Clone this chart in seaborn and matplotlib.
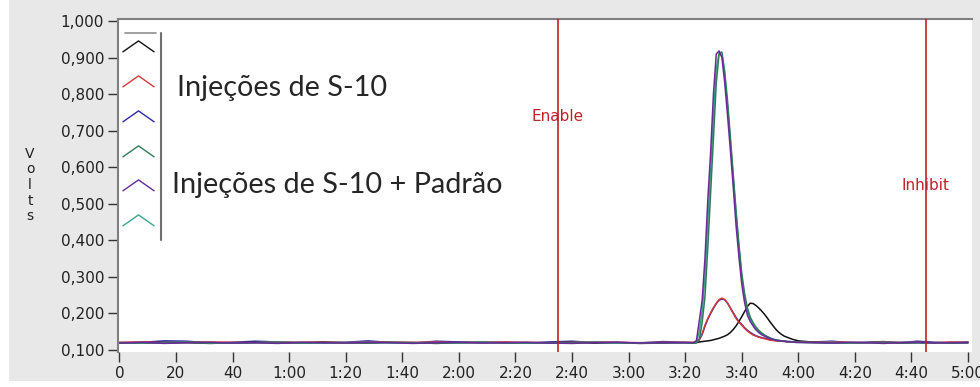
import matplotlib
matplotlib.use("Agg")
import matplotlib.pyplot as plt
from matplotlib.lines import Line2D
from matplotlib.patches import Rectangle
from matplotlib.ticker import FuncFormatter
import pandas as pd
import seaborn as sns

# Sample times in seconds: coarse baseline, 1 s resolution around the peaks, coarse tail
seconds = [
    0, 8, 16, 24, 32, 40, 48, 56, 64, 72, 80, 88, 96,
    104, 112, 120, 128, 136, 144, 152, 160, 168, 176, 184, 192, 200,
    203, 204, 205, 206, 207, 208, 209, 210, 211, 212,
    213, 214, 215, 216, 217, 218, 219, 220, 221, 222,
    223, 224, 225, 226, 227, 228, 229, 230, 231, 232,
    233, 234, 235, 236, 237, 238, 239, 240,
    246, 252, 258, 264, 270, 276, 282, 288, 294, 300,
]

# Detector signal (V) for the six injections
black = [
    0.120, 0.119, 0.121, 0.120, 0.118, 0.120, 0.121, 0.119, 0.120, 0.122, 0.120, 0.119, 0.121,
    0.120, 0.118, 0.120, 0.121, 0.120, 0.119, 0.120, 0.121, 0.119, 0.120, 0.118, 0.119, 0.120,
    0.119, 0.120, 0.122, 0.123, 0.124, 0.125, 0.126, 0.128, 0.130, 0.132,
    0.135, 0.138, 0.142, 0.148, 0.156, 0.166, 0.178, 0.191, 0.205, 0.219,
    0.228, 0.227, 0.222, 0.215, 0.207, 0.198, 0.188, 0.177, 0.167, 0.157,
    0.149, 0.143, 0.138, 0.135, 0.132, 0.129, 0.127, 0.125,
    0.121, 0.120, 0.119, 0.120, 0.121, 0.119, 0.120, 0.120, 0.119, 0.120,
]
red = [
    0.121, 0.122, 0.120, 0.121, 0.122, 0.121, 0.120, 0.122, 0.121, 0.121, 0.120, 0.122, 0.121,
    0.121, 0.122, 0.120, 0.121, 0.122, 0.121, 0.120, 0.121, 0.122, 0.121, 0.120, 0.121, 0.121,
    0.121, 0.123, 0.130, 0.145, 0.168, 0.186, 0.202, 0.216, 0.228, 0.238,
    0.242, 0.238, 0.228, 0.214, 0.200, 0.186, 0.176, 0.168, 0.159, 0.152,
    0.146, 0.141, 0.138, 0.135, 0.133, 0.131, 0.129, 0.127, 0.126, 0.125,
    0.124, 0.124, 0.123, 0.123, 0.122, 0.122, 0.121, 0.121,
    0.121, 0.122, 0.121, 0.120, 0.122, 0.121, 0.121, 0.120, 0.122, 0.121,
]
blue = [
    0.120, 0.121, 0.125, 0.124, 0.119, 0.121, 0.124, 0.122, 0.120, 0.119, 0.121, 0.125, 0.120,
    0.119, 0.124, 0.122, 0.120, 0.121, 0.119, 0.122, 0.124, 0.120, 0.121, 0.119, 0.123, 0.121,
    0.120, 0.122, 0.128, 0.142, 0.165, 0.184, 0.200, 0.214, 0.227, 0.236,
    0.240, 0.237, 0.228, 0.215, 0.202, 0.189, 0.178, 0.170, 0.161, 0.154,
    0.148, 0.143, 0.139, 0.136, 0.134, 0.132, 0.130, 0.128, 0.127, 0.126,
    0.125, 0.124, 0.124, 0.123, 0.123, 0.122, 0.122, 0.121,
    0.122, 0.124, 0.120, 0.121, 0.123, 0.120, 0.124, 0.121, 0.120, 0.122,
]
green = [
    0.119, 0.120, 0.119, 0.121, 0.120, 0.119, 0.120, 0.121, 0.119, 0.120, 0.120, 0.119, 0.121,
    0.120, 0.119, 0.120, 0.121, 0.119, 0.120, 0.119, 0.120, 0.121, 0.120, 0.119, 0.120, 0.120,
    0.119, 0.120, 0.128, 0.175, 0.245, 0.380, 0.530, 0.680, 0.830, 0.912,
    0.915, 0.860, 0.780, 0.680, 0.580, 0.480, 0.390, 0.310, 0.255, 0.215,
    0.190, 0.175, 0.163, 0.154, 0.147, 0.141, 0.137, 0.133, 0.130, 0.128,
    0.126, 0.125, 0.124, 0.123, 0.122, 0.122, 0.121, 0.121,
    0.120, 0.119, 0.120, 0.120, 0.121, 0.119, 0.120, 0.120, 0.119, 0.120,
]
purple = [
    0.119, 0.121, 0.118, 0.120, 0.121, 0.119, 0.120, 0.118, 0.121, 0.120, 0.119, 0.121, 0.120,
    0.118, 0.120, 0.121, 0.119, 0.120, 0.121, 0.119, 0.118, 0.120, 0.121, 0.119, 0.120, 0.120,
    0.120, 0.126, 0.180, 0.235, 0.350, 0.510, 0.640, 0.800, 0.910, 0.918,
    0.900, 0.830, 0.740, 0.645, 0.545, 0.440, 0.355, 0.280, 0.230, 0.195,
    0.178, 0.166, 0.155, 0.148, 0.142, 0.138, 0.134, 0.131, 0.129, 0.127,
    0.126, 0.125, 0.124, 0.123, 0.123, 0.122, 0.121, 0.121,
    0.120, 0.119, 0.121, 0.120, 0.118, 0.120, 0.121, 0.119, 0.120, 0.120,
]
teal = [
    0.120, 0.119, 0.120, 0.121, 0.119, 0.120, 0.120, 0.121, 0.120, 0.119, 0.120, 0.121, 0.119,
    0.120, 0.120, 0.119, 0.121, 0.120, 0.119, 0.120, 0.120, 0.121, 0.119, 0.120, 0.120, 0.119,
    0.120, 0.122, 0.150, 0.205, 0.300, 0.450, 0.590, 0.740, 0.870, 0.912,
    0.905, 0.850, 0.765, 0.670, 0.570, 0.470, 0.380, 0.300, 0.245, 0.208,
    0.185, 0.171, 0.160, 0.152, 0.145, 0.140, 0.136, 0.132, 0.129, 0.127,
    0.126, 0.125, 0.124, 0.123, 0.122, 0.122, 0.121, 0.121,
    0.120, 0.121, 0.119, 0.120, 0.120, 0.121, 0.120, 0.119, 0.120, 0.120,
]

series_names = ["Plot 0", "Plot 1", "Plot 2", "Plot 3", "Plot 4", "Plot 5"]
series_values = [black, red, blue, green, purple, teal]
series_colors = ["#111111", "#d23a3a", "#2b2bb0", "#2e7d5a", "#6a2a9a", "#3aa58f"]
# drawing order (later traces end up on top)
draw_order = ["Plot 2", "Plot 0", "Plot 1", "Plot 5", "Plot 3", "Plot 4"]

enable_time = 155
inhibit_time = 285
annotations = ["Injeções de S-10", "Injeções de S-10 + Padrão"]
x_ticks = list(range(0, 301, 20))
y_ticks = [0.1, 0.2, 0.3, 0.4, 0.5, 0.6, 0.7, 0.8, 0.9, 1.0]

df = pd.concat(
    [pd.DataFrame({"t": seconds, "volts": vals, "plot": name})
     for name, vals in zip(series_names, series_values)],
    ignore_index=True,
)

sns.set_theme(style="white")
plt.rcParams["font.family"] = ["DejaVu Sans"]

fig = plt.figure(figsize=(9.8, 3.87), dpi=100, facecolor="white")
# grey instrument panel behind the graph
fig.patches.append(Rectangle((9 / 980, 6 / 387), 971 / 980, 381 / 387,
                             transform=fig.transFigure, facecolor="#e8e8e8",
                             edgecolor="none", zorder=-10))
ax = fig.add_axes([118 / 980, 35 / 387, 854 / 980, 333 / 387])
ax.set_zorder(1)
ax.set_facecolor("white")

sns.lineplot(
    data=df, x="t", y="volts", hue="plot", hue_order=draw_order,
    palette=dict(zip(series_names, series_colors)), estimator=None,
    sort=False, linewidth=1.1, legend=False, ax=ax,
)

ax.set_xlim(-0.5, 301.4)
ax.set_ylim(0.0945, 1.0055)

# Acquisition window markers
for t0, label, ylab in [(enable_time, "Enable", 0.74), (inhibit_time, "Inhibit", 0.551)]:
    ax.axvline(t0, color="#c0202a", linewidth=1.2, zorder=5)
    ax.text(t0, ylab, label, color="#c0202a", fontsize=11, ha="center",
            va="center", zorder=6)

ax.text(20.4, 0.817, annotations[0], fontsize=20.8, family="Lato",
        color="#262626", ha="left", va="center")
ax.text(18.6, 0.551, annotations[1], fontsize=20.8, family="Lato",
        color="#262626", ha="left", va="center")

# Ticks and labels
ax.set_xticks(x_ticks)
ax.set_yticks(y_ticks)


def fmt_time(v, _pos):
    s = int(round(v))
    if s < 60:
        return str(s)
    return f"{s // 60}:{s % 60:02d}"


def fmt_volts(v, _pos):
    return f"{v:.3f}".replace(".", ",")


ax.xaxis.set_major_formatter(FuncFormatter(fmt_time))
ax.yaxis.set_major_formatter(FuncFormatter(fmt_volts))
ax.tick_params(axis="both", direction="out", length=7, width=1, color="#333333",
               labelsize=11, labelcolor="#222222", pad=3)
ax.tick_params(axis="both", which="both", bottom=True, left=True)
ax.set_xlabel("")
ax.set_ylabel("")

for side in ["bottom", "right"]:
    ax.spines[side].set_visible(False)
for side in ["top", "left"]:
    ax.spines[side].set_color("#7f7f7f")
    ax.spines[side].set_linewidth(1.5)

fig.text(30 / 980, 1 - 185 / 387, "V\no\nl\nt\ns", fontsize=10, color="#222222",
         ha="center", va="center", linespacing=1.15)

# Plot legend: one peak glyph per trace
peak_glyph = [(-1.0, -0.35), (0.0, 0.35), (1.0, -0.35)]
handles = [Line2D([], [], linestyle="none", marker=peak_glyph, markersize=23,
                  markerfacecolor="none", markeredgecolor=c, markeredgewidth=1.0)
           for c in series_colors]
leg = ax.legend(handles, [""] * len(handles), loc="upper left",
                bbox_to_anchor=(0.002, 0.958), frameon=True, fontsize=10,
                labelspacing=1.5, handlelength=1.6, handletextpad=0.0,
                borderpad=0.5, borderaxespad=0.0, facecolor="white",
                edgecolor="none", framealpha=1.0)
leg.get_frame().set_boxstyle("square", pad=0)
ax.add_line(Line2D([0.0505, 0.0505], [0.336, 0.958], transform=ax.transAxes,
                   color="#6f6f6f", linewidth=1.5, zorder=7))
ax.add_line(Line2D([0.008, 0.045], [0.958, 0.958], transform=ax.transAxes,
                   color="#8f8f8f", linewidth=1.2, zorder=7))

fig.savefig("out.png", dpi=100, facecolor=fig.get_facecolor())
